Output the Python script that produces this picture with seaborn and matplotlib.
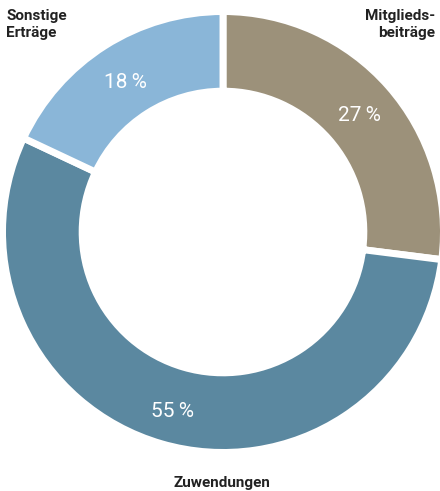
import matplotlib
matplotlib.use("Agg")
import matplotlib.pyplot as plt
import seaborn as sns
import numpy as np

categories = ["Mitglieds-\nbeiträge", "Zuwendungen", "Sonstige\nErträge"]
values = [27, 55, 18]
pct_labels = ["27\u2009%", "55\u2009%", "18\u2009%"]
colors = ["#9c917a", "#5b88a0", "#8ab6d8"]

sns.set_style("white")
plt.rcParams['font.family'] = ['Roboto', 'DejaVu Sans']

fig = plt.figure(figsize=(4.4, 4.91), dpi=100)
ax = fig.add_axes([0, 0, 1, 1])
R = 217.0
cx, cy = 223.0, 232.0
lw = 5
extra = (lw / 2) * (100 / 72) / R
wedges, texts = ax.pie(values, colors=colors, startangle=90, counterclock=False,
                       radius=1 + extra,
                       wedgeprops=dict(width=0.335 + 2 * extra, edgecolor="white", linewidth=lw))

ang = 90
for v, lab in zip(values, pct_labels):
    mid = ang - v * 3.6 / 2
    ang -= v * 3.6
    r = 0.84
    ax.text(r * np.cos(np.radians(mid)), r * np.sin(np.radians(mid)) - 0.02, lab,
            ha="center", va="center", color="white", fontsize=15, fontweight="normal")

ax.set_xlim(-cx / R, (440 - cx) / R)
ax.set_ylim(-(491 - cy) / R, cy / R)
ax.set_aspect("auto")
ax.axis("off")

fig.text(6 / 440, 1 - 9 / 491, categories[2], ha="left", va="top", fontsize=11,
         fontweight="semibold", color="#222222", linespacing=1.25)
fig.text(435 / 440, 1 - 9 / 491, categories[0], ha="right", va="top", fontsize=11,
         fontweight="semibold", color="#222222", linespacing=1.25, multialignment="right")
fig.text(222 / 440, 1 - 483 / 491, categories[1], ha="center", va="center", fontsize=11,
         fontweight="semibold", color="#222222")

fig.savefig("out.png", dpi=100)
